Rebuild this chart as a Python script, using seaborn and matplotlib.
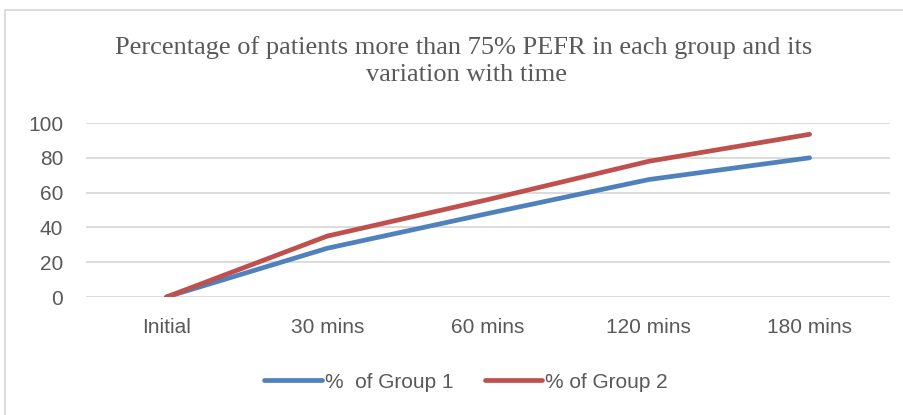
import pandas as pd
import matplotlib
matplotlib.use("Agg")
import matplotlib.pyplot as plt
from matplotlib.patches import Rectangle
import seaborn as sns

# data
times = ["Initial", "30 mins", "60 mins", "120 mins", "180 mins"]
group1 = [0, 28, 48, 67.5, 80]
group2 = [0, 35, 56, 78, 93.5]
series_names = ["%  of Group 1", "% of Group 2"]

sns.set_theme(style="whitegrid")
plt.rcParams['font.family'] = ['Liberation Sans', 'DejaVu Sans']

df = pd.DataFrame({
	'time': times * 2,
	'pos': list(range(len(times))) * 2,
	'value': group1 + group2,
	'series': [series_names[0]] * len(times) + [series_names[1]] * len(times),
})

text_col = '#595959'
fig = plt.figure(figsize=(9.04, 4.15), dpi=100)
ax = fig.add_axes([86 / 904, 1 - 297 / 415, (890 - 86) / 904, 174 / 415])

sns.lineplot(data=df, x='pos', y='value', hue='series',
			 palette=['#4f81bd', '#c0504d'], linewidth=3.4, ax=ax,
			 solid_capstyle='round', legend=True)

ax.set_xlim(-0.5, len(times) - 0.5)
ax.set_ylim(0, 100)
ax.set_yticks(range(0, 101, 20))
ax.set_xticks(range(len(times)))
ax.set_xticklabels(times)
ax.set_xlabel('')
ax.set_ylabel('')
ax.grid(axis='x', visible=False)
ax.grid(axis='y', color='#d9d9d9', linewidth=1.3)
for s in ax.spines.values():
	s.set_visible(False)
ax.tick_params(axis='both', colors=text_col, labelsize=15, length=0)
ax.tick_params(axis='x', pad=15)
ax.tick_params(axis='y', pad=16.5)

handles, labels = ax.get_legend_handles_labels()
leg = ax.legend(handles, labels, loc='center', bbox_to_anchor=(466 / 904, 1 - 382 / 415),
				bbox_transform=fig.transFigure, ncol=2, frameon=False, fontsize=15,
				handlelength=2.75, handletextpad=0.15, columnspacing=1.5, labelcolor=text_col)
for ln in leg.get_lines():
	ln.set_linewidth(3.4)
	ln.set_solid_capstyle('round')

fig.text(464 / 904, 1 - 54 / 415, 'Percentage of patients more than 75% PEFR in each group and its',
		 ha='center', va='baseline', fontsize=19, color=text_col, family='Liberation Serif')
fig.text(467 / 904, 1 - 81 / 415, 'variation with time',
		 ha='center', va='baseline', fontsize=19, color=text_col, family='Liberation Serif')

fig.patches.append(Rectangle((5 / 904, -0.05), 1.0, 1 - 10 / 415 + 0.05, transform=fig.transFigure,
							 fill=False, edgecolor='#d9d9d9', linewidth=1.3))

fig.savefig('out.png', dpi=100)
